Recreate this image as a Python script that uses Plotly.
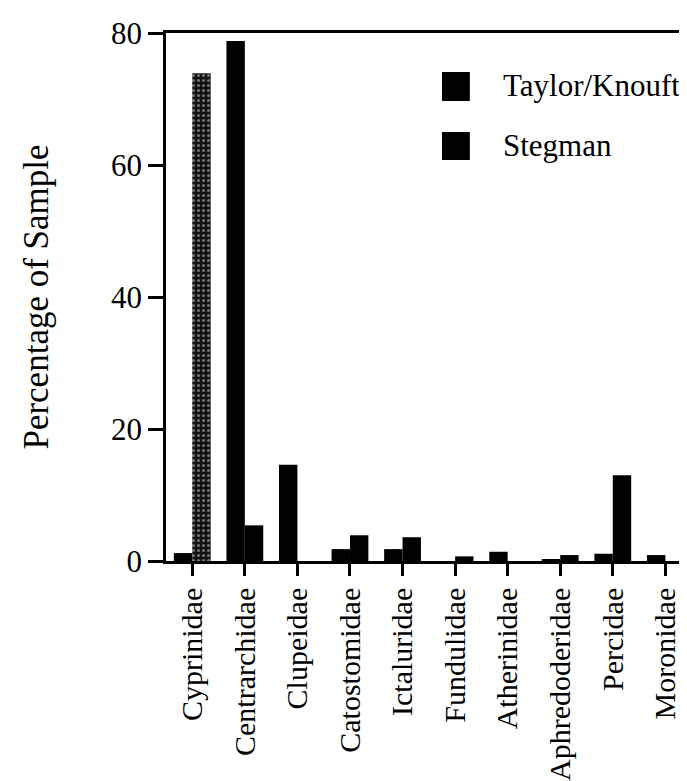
import plotly.graph_objects as go

families = ["Cyprinidae", "Centrarchidae", "Clupeidae", "Catostomidae", "Ictaluridae",
            "Fundulidae", "Atherinidae", "Aphredoderidae", "Percidae", "Moronidae"]
taylor_knouft = [1.2, 78.8, 14.6, 1.8, 1.8, 0.0, 1.4, 0.3, 1.1, 0.9]
stegman = [73.9, 5.4, 0.0, 3.9, 3.6, 0.7, 0.0, 0.9, 13.0, 0.0]
stegman_pattern = [".", "", "", "", "", "", "", "", "", ""]

FONT = "Liberation Serif, Times New Roman, serif"

fig = go.Figure()
fig.add_trace(go.Bar(x=families, y=taylor_knouft, name="Taylor/Knouft",
                     marker=dict(color="black", line=dict(width=0))))
fig.add_trace(go.Bar(x=families, y=stegman, name="Stegman",
                     marker=dict(color="black", line=dict(width=0),
                                 pattern=dict(shape=stegman_pattern, fgcolor="#d0d0d0",
                                              bgcolor="#111111", size=5, solidity=0.3))))

fig.update_layout(
    width=687, height=781,
    margin=dict(l=158, r=3, t=25, b=228),
    paper_bgcolor="white", plot_bgcolor="white",
    barmode="group", bargap=0.3, bargroupgap=0.0,
    showlegend=False,
    font=dict(family=FONT, color="black"),
)
fig.update_xaxes(
    range=[-0.5, 9.45], showgrid=False, showline=True, mirror=True,
    linecolor="black", linewidth=2.5, ticks="outside", ticklen=12, tickwidth=2.5,
    tickcolor="black", tickangle=-90, tickfont=dict(size=30, family=FONT),
)
fig.update_yaxes(
    range=[0, 80], tickvals=[0, 20, 40, 60, 80], showgrid=False, zeroline=False,
    showline=True, mirror=True, linecolor="black", linewidth=2.5,
    ticks="outside", ticklen=15, tickwidth=2.5, tickcolor="black",
    tickfont=dict(size=31, family=FONT),
    title=dict(text="Percentage of Sample", font=dict(size=35, family=FONT), standoff=52),
)

# legend drawn manually to match the large square keys
PW, PH, PB = 525.0, 528.0, 553.0
fig.add_shape(type="rect", xref="paper", yref="paper",
              x0=(435 - 158) / PW, x1=(463 - 158) / PW,
              y0=(PB - 93) / PH, y1=(PB - 64) / PH,
              fillcolor="black", line=dict(width=0))
fig.add_shape(type="rect", xref="paper", yref="paper",
              x0=(435 - 158) / PW, x1=(463 - 158) / PW,
              y0=(PB - 152) / PH, y1=(PB - 124) / PH,
              fillcolor="black", line=dict(width=0))
fig.add_annotation(text="Taylor/Knouft", xref="paper", yref="paper",
                   x=(494 - 158) / PW, y=(PB - 78) / PH, xanchor="left", yanchor="middle",
                   showarrow=False, font=dict(size=31, family=FONT))
fig.add_annotation(text="Stegman", xref="paper", yref="paper",
                   x=(494 - 158) / PW, y=(PB - 137) / PH, xanchor="left", yanchor="middle",
                   showarrow=False, font=dict(size=31, family=FONT))

fig.write_html("out.html")
